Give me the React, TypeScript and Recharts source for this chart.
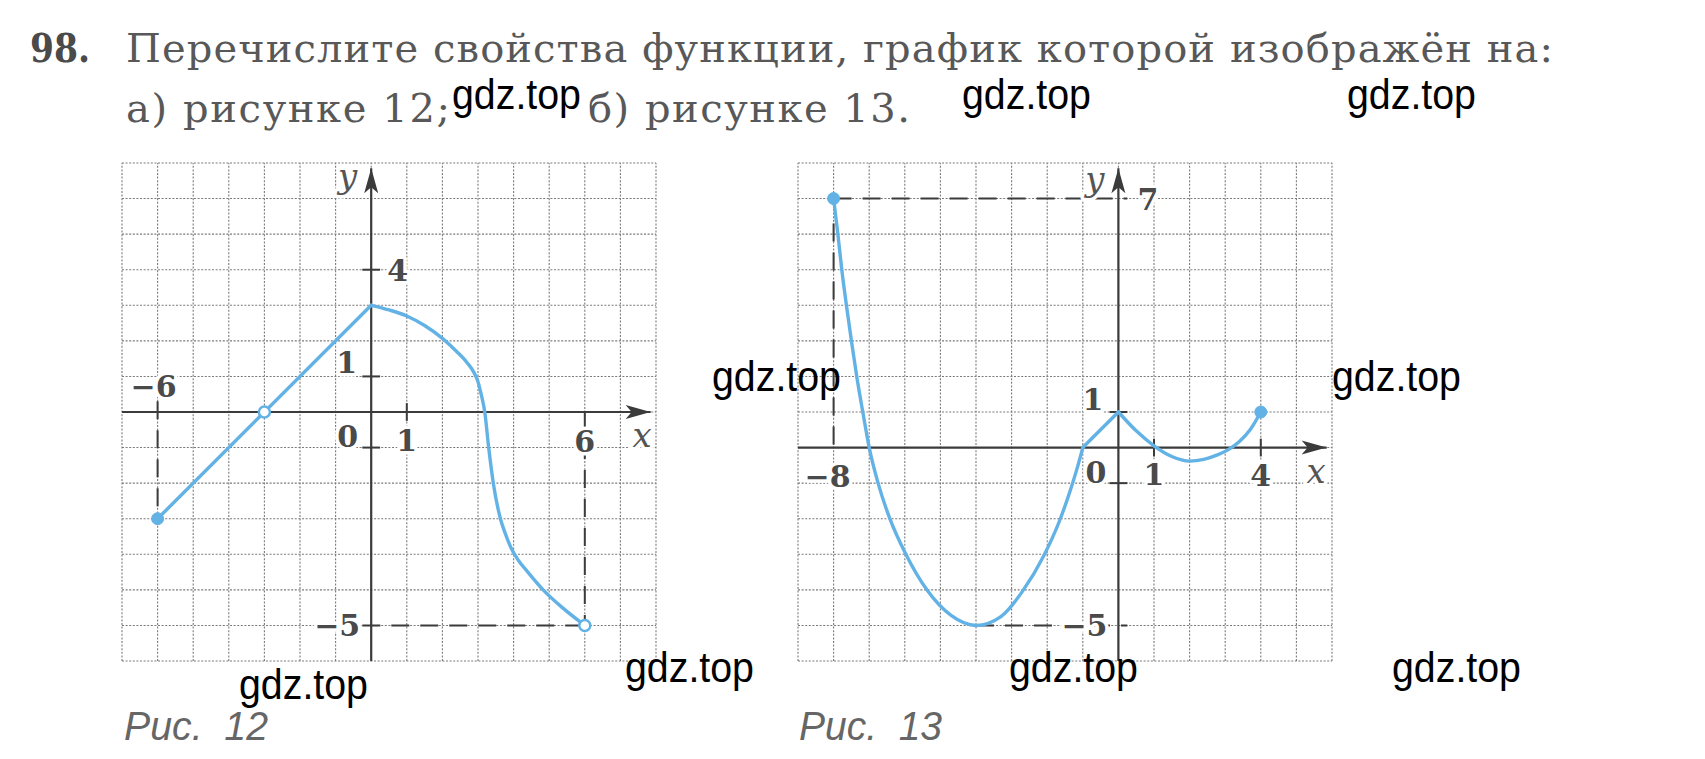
import React from 'react';
import { LineChart, Line, XAxis, YAxis, ReferenceLine, ReferenceDot } from 'recharts';

// ---------- grid ticks (one per grid line) ----------
const fig12GridX = [-7, -6, -5, -4, -3, -2, -1, 0, 1, 2, 3, 4, 5, 6, 7, 8];
const fig12GridY = [-7, -6, -5, -4, -3, -2, -1, 0, 1, 2, 3, 4, 5, 6, 7];
const fig13GridX = [-9, -8, -7, -6, -5, -4, -3, -2, -1, 0, 1, 2, 3, 4, 5, 6];
const fig13GridY = [-6, -5, -4, -3, -2, -1, 0, 1, 2, 3, 4, 5, 6, 7, 8];

// ---------- Рис. 12 series (grid units as drawn) ----------
const fig12Straight = [
  { x: -6, y: -3 },
  { x: 0, y: 3 },
];
const fig12Curve = [
  { x: 0, y: 3 }, { x: 0.5, y: 2.87 }, { x: 1, y: 2.7 }, { x: 1.5, y: 2.43 },
  { x: 2, y: 2.07 }, { x: 2.4, y: 1.7 }, { x: 2.7, y: 1.38 }, { x: 2.88, y: 1.12 },
  { x: 2.99, y: 0.88 }, { x: 3.1, y: 0.45 }, { x: 3.19, y: 0 }, { x: 3.3, y: -1 },
  { x: 3.43, y: -2 }, { x: 3.63, y: -3 }, { x: 3.76, y: -3.4 }, { x: 3.92, y: -3.8 },
  { x: 4.12, y: -4.15 }, { x: 4.4, y: -4.5 }, { x: 4.83, y: -5 }, { x: 5.37, y: -5.5 },
  { x: 6, y: -6 },
];
const fig12Filled = [{ x: -6, y: -3 }];
const fig12Open = [{ x: -3, y: 0 }, { x: 6, y: -6 }];

// ---------- Рис. 13 series ----------
const fig13Left = [
  { x: -8, y: 7 }, { x: -7.88, y: 6 }, { x: -7.77, y: 5 }, { x: -7.64, y: 4 },
  { x: -7.5, y: 3 }, { x: -7.35, y: 2 }, { x: -7.18, y: 1 }, { x: -7.0, y: 0 },
  { x: -6.75, y: -1 }, { x: -6.42, y: -2 }, { x: -5.97, y: -3 }, { x: -5.38, y: -4 },
  { x: -4.7, y: -4.72 }, { x: -4, y: -5 }, { x: -3.3, y: -4.75 }, { x: -2.7, y: -4.05 },
  { x: -2.1, y: -3.05 }, { x: -1.65, y: -2.05 }, { x: -1.35, y: -1.2 }, { x: -1.15, y: -0.55 },
  { x: -1, y: 0 },
];
const fig13Mid = [
  { x: -1, y: 0 },
  { x: 0, y: 1 },
];
const fig13Right = [
  { x: 0, y: 1 }, { x: 0.5, y: 0.47 }, { x: 1, y: 0.05 }, { x: 1.5, y: -0.25 },
  { x: 2, y: -0.38 }, { x: 2.4, y: -0.33 }, { x: 2.8, y: -0.2 }, { x: 3.1, y: -0.05 },
  { x: 3.4, y: 0.17 }, { x: 3.7, y: 0.5 }, { x: 4, y: 1 },
];
const fig13Filled = [{ x: -8, y: 7 }, { x: 4, y: 1 }];

// ---------- guide lines (dashed) ----------
const fig12Dashed = [
  { x1: -6, y1: 0.3, x2: -6, y2: -3 },
  { x1: 6, y1: 0, x2: 6, y2: -6 },
  { x1: -0.25, y1: -6, x2: 6, y2: -6 },
];
const fig13Dashed = [
  { x1: -8, y1: 7, x2: 0.25, y2: 7 },
  { x1: -8, y1: 6.3, x2: -8, y2: 0 },
  { x1: -4, y1: -5, x2: 0.25, y2: -5 },
];

// ---------- axis tick marks ----------
const fig12YTicks = [4, 1, -1];
const fig12XTicks = [1];
const fig13YTicks = [1, -1];
const fig13XTicks = [1, 4];

// ---------- labels: text at data coordinates ----------
const fig12Labels = [
  { x: 0, y: 7, text: 'y' },
  { x: 0, y: 4, text: '4' },
  { x: 0, y: 1, text: '1' },
  { x: -6, y: 0, text: '\u22126' },
  { x: 0, y: 0, text: '0' },
  { x: 1, y: 0, text: '1' },
  { x: 6, y: 0, text: '6' },
  { x: 8, y: 0, text: 'x' },
  { x: 0, y: -6, text: '\u22125' },
];
const fig13Labels = [
  { x: 0, y: 8, text: 'y' },
  { x: 0, y: 7, text: '7' },
  { x: 0, y: 1, text: '1' },
  { x: -8, y: 0, text: '\u22128' },
  { x: 0, y: 0, text: '0' },
  { x: 1, y: 0, text: '1' },
  { x: 4, y: 0, text: '4' },
  { x: 6, y: 0, text: 'x' },
  { x: 0, y: -5, text: '\u22125' },
];

// label placement styles (pixel offsets from anchor point), same order as labels
const fig12LabelStyle = [
  { dx: -14, dy: 25, anchor: 'end', italic: true },
  { dx: 16, dy: 11, anchor: 'start' },
  { dx: -14, dy: -3, anchor: 'end' },
  { dx: 19, dy: -15, anchor: 'end' },
  { dx: -13, dy: 35, anchor: 'end' },
  { dx: 0, dy: 39, anchor: 'middle' },
  { dx: 0, dy: 40, anchor: 'middle' },
  { dx: -14, dy: 35, anchor: 'middle', italic: true },
  { dx: -11, dy: 11, anchor: 'end' },
];
const fig13LabelStyle = [
  { dx: -14, dy: 28, anchor: 'end', italic: true },
  { dx: 19, dy: 11, anchor: 'start' },
  { dx: -15, dy: -2, anchor: 'end' },
  { dx: 17, dy: 39, anchor: 'end' },
  { dx: -12, dy: 35, anchor: 'end' },
  { dx: 0, dy: 37, anchor: 'middle' },
  { dx: 0, dy: 38, anchor: 'middle' },
  { dx: -16, dy: 35, anchor: 'middle', italic: true },
  { dx: -11, dy: 11, anchor: 'end' },
];

// ---------- page texts ----------
const titleNumber = '98.';
const titleLine1 = 'Перечислите свойства функции, график которой изображён на:';
const titleLine2a = 'а) рисунке 12;';
const titleLine2b = 'б) рисунке 13.';
const captions = ['Рис.  12', 'Рис.  13'];
const watermark = 'gdz.top';
const watermarkSpots = [
  [452, 109], [962, 109], [1347, 109], [712, 391], [1332, 391],
  [625, 682], [1009, 682], [1392, 682], [239, 699],
];

const BLUE = '#62b2e6';
const INK = '#3b3b3b';
const LABEL = '#4a4a4a';
const GRID = '#7a7a7a';
const CHART_W = 554;
const CHART_H = 518;
const M = { top: 10, right: 10, bottom: 10, left: 10 };

const makeLabel = (text: string, st: any) => (p: any) => (
  <text
    x={p.cx + st.dx}
    y={p.cy + st.dy}
    textAnchor={st.anchor}
    fontFamily="DejaVu Serif"
    fontStyle={st.italic ? 'italic' : 'normal'}
    fontWeight={st.italic ? 'normal' : 'bold'}
    fontSize={st.italic ? 34 : 30}
    fill={st.italic ? '#555' : LABEL}
    stroke="#fff"
    strokeWidth={7}
    paintOrder="stroke"
    strokeLinejoin="round"
  >
    {text}
  </text>
);

const ArrowRight = (p: any) => (
  <polygon
    points={`${p.cx},${p.cy} ${p.cx - 25},${p.cy - 7} ${p.cx - 19},${p.cy} ${p.cx - 25},${p.cy + 7}`}
    fill={INK}
  />
);
const ArrowUp = (p: any) => (
  <polygon
    points={`${p.cx},${p.cy} ${p.cx - 7},${p.cy + 25} ${p.cx},${p.cy + 19} ${p.cx + 7},${p.cy + 25}`}
    fill={INK}
  />
);

type FigProps = {
  gx: number[];
  gy: number[];
  series: { data: any[]; type: 'linear' | 'monotone' }[];
  filled: any[];
  open: any[];
  dashed: any[];
  yTicks: number[];
  xTicks: number[];
  labels: any[];
  labelStyle: any[];
};

function Figure({ gx, gy, series, filled, open, dashed, yTicks, xTicks, labels, labelStyle }: FigProps) {
  const xMin = gx[0];
  const xMax = gx[gx.length - 1];
  const yMin = gy[0];
  const yMax = gy[gy.length - 1];
  return (
    <LineChart width={CHART_W} height={CHART_H} margin={M}>
      <XAxis
        type="number"
        dataKey="x"
        domain={[xMin, xMax]}
        ticks={gx}
        interval={0}
        allowDataOverflow
        hide
      />
      <YAxis
        type="number"
        dataKey="y"
        domain={[yMin, yMax]}
        ticks={gy}
        interval={0}
        allowDataOverflow
        hide
      />
      {gx.map((v) => (
        <ReferenceLine key={'gx' + v} x={v} stroke={GRID} strokeWidth={1.1} strokeDasharray="2 1.6" ifOverflow="visible" />
      ))}
      {gy.map((v) => (
        <ReferenceLine key={'gy' + v} y={v} stroke={GRID} strokeWidth={1.1} strokeDasharray="2 1.6" ifOverflow="visible" />
      ))}
      {dashed.map((d, i) => (
        <ReferenceLine
          key={'d' + i}
          segment={[{ x: d.x1, y: d.y1 }, { x: d.x2, y: d.y2 }]}
          stroke={INK}
          strokeWidth={2}
          strokeDasharray="18 11"
          ifOverflow="visible"
        />
      ))}
      <ReferenceLine
        segment={[{ x: xMin, y: 0 }, { x: xMax - 0.15, y: 0 }]}
        stroke={INK}
        strokeWidth={2.2}
        ifOverflow="visible"
      />
      <ReferenceLine
        segment={[{ x: 0, y: yMin }, { x: 0, y: yMax - 0.15 }]}
        stroke={INK}
        strokeWidth={2.2}
        ifOverflow="visible"
      />
      {yTicks.map((t) => (
        <ReferenceLine
          key={'yt' + t}
          segment={[{ x: -0.25, y: t }, { x: 0.25, y: t }]}
          stroke={INK}
          strokeWidth={2}
        />
      ))}
      {xTicks.map((t) => (
        <ReferenceLine
          key={'xt' + t}
          segment={[{ x: t, y: -0.25 }, { x: t, y: 0.25 }]}
          stroke={INK}
          strokeWidth={2}
        />
      ))}
      {series.map((s, i) => (
        <Line
          key={'s' + i}
          data={s.data}
          dataKey="y"
          type={s.type}
          stroke={BLUE}
          strokeWidth={3.4}
          dot={false}
          activeDot={false}
          isAnimationActive={false}
          strokeLinecap="round"
          strokeLinejoin="round"
        />
      ))}
      <ReferenceDot x={xMax - 0.15} y={0} r={1} shape={ArrowRight} ifOverflow="visible" />
      <ReferenceDot x={0} y={yMax - 0.15} r={1} shape={ArrowUp} ifOverflow="visible" />
      {labels.map((l, i) => (
        <ReferenceDot
          key={'l' + i}
          x={l.x}
          y={l.y}
          r={1}
          ifOverflow="visible"
          shape={makeLabel(l.text, labelStyle[i])}
        />
      ))}
      {filled.map((p, i) => (
        <ReferenceDot key={'f' + i} x={p.x} y={p.y} r={6} fill={BLUE} stroke={BLUE} ifOverflow="visible" />
      ))}
      {open.map((p, i) => (
        <ReferenceDot key={'o' + i} x={p.x} y={p.y} r={5.5} fill="#fff" stroke={BLUE} strokeWidth={2.5} ifOverflow="visible" />
      ))}
    </LineChart>
  );
}

export default function App() {
  return (
    <div style={{ position: 'absolute', left: 0, top: 0, width: 1705, height: 759, background: '#fff', overflow: 'hidden' }}>
      <div style={{ position: 'absolute', left: 112, top: 153 }}>
        <Figure
          gx={fig12GridX}
          gy={fig12GridY}
          series={[
            { data: fig12Straight, type: 'linear' },
            { data: fig12Curve, type: 'monotone' },
          ]}
          filled={fig12Filled}
          open={fig12Open}
          dashed={fig12Dashed}
          yTicks={fig12YTicks}
          xTicks={fig12XTicks}
          labels={fig12Labels}
          labelStyle={fig12LabelStyle}
        />
      </div>
      <div style={{ position: 'absolute', left: 788, top: 153 }}>
        <Figure
          gx={fig13GridX}
          gy={fig13GridY}
          series={[
            { data: fig13Left, type: 'monotone' },
            { data: fig13Mid, type: 'linear' },
            { data: fig13Right, type: 'monotone' },
          ]}
          filled={fig13Filled}
          open={[]}
          dashed={fig13Dashed}
          yTicks={fig13YTicks}
          xTicks={fig13XTicks}
          labels={fig13Labels}
          labelStyle={fig13LabelStyle}
        />
      </div>
      <svg width={1705} height={759} style={{ position: 'absolute', left: 0, top: 0, pointerEvents: 'none' }}>
        <text x={30} y={62} fontFamily="DejaVu Serif" fontWeight="bold" fontSize={40} fill="#4a4a4a" textLength={60} lengthAdjust="spacingAndGlyphs">
          {titleNumber}
        </text>
        <text x={126} y={62} fontFamily="DejaVu Serif" fontSize={40} fill="#585858" textLength={1427} lengthAdjust="spacing">
          {titleLine1}
        </text>
        <text x={126} y={122} fontFamily="DejaVu Serif" fontSize={40} fill="#585858" textLength={324} lengthAdjust="spacing">
          {titleLine2a}
        </text>
        <text x={588} y={122} fontFamily="DejaVu Serif" fontSize={40} fill="#585858" textLength={322} lengthAdjust="spacing">
          {titleLine2b}
        </text>
        <text x={124} y={740} fontFamily="Liberation Sans" fontStyle="italic" fontSize={40} fill="#666" style={{ whiteSpace: 'pre' }} textLength={144} lengthAdjust="spacingAndGlyphs">
          {captions[0]}
        </text>
        <text x={799} y={740} fontFamily="Liberation Sans" fontStyle="italic" fontSize={40} fill="#666" style={{ whiteSpace: 'pre' }} textLength={143} lengthAdjust="spacingAndGlyphs">
          {captions[1]}
        </text>
        {watermarkSpots.map(([x, y], i) => (
          <text key={i} x={x} y={y} fontFamily="Liberation Sans" fontSize={42} fill="#000" textLength={129} lengthAdjust="spacingAndGlyphs">
            {watermark}
          </text>
        ))}
      </svg>
    </div>
  );
}
